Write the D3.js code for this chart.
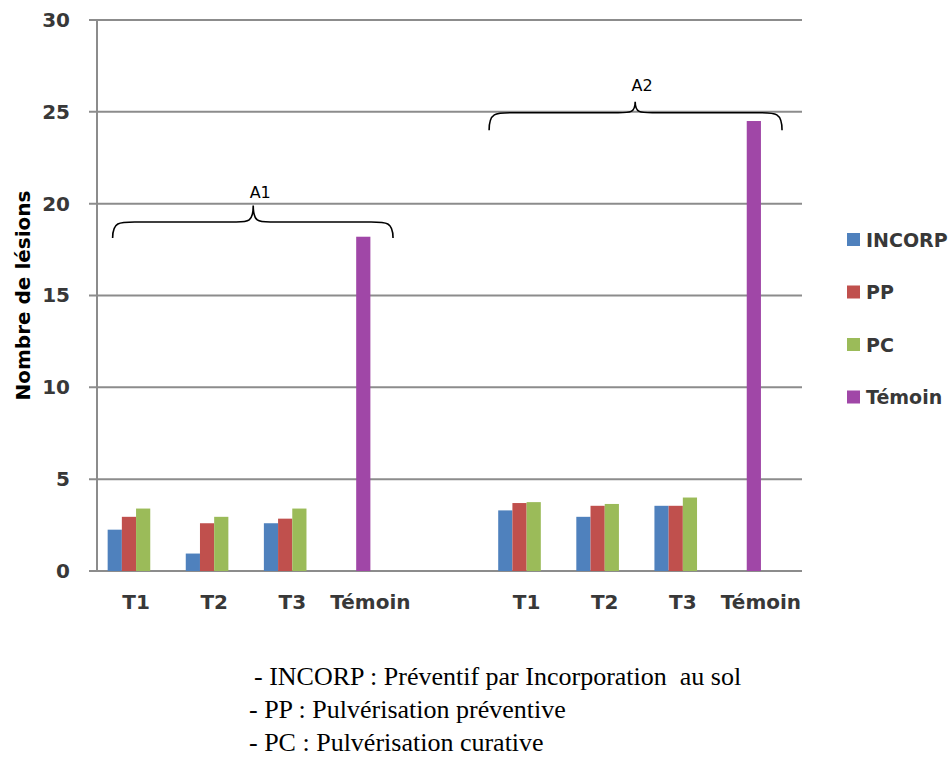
<!DOCTYPE html>
<html>
<head>
<meta charset="utf-8">
<script src="https://cdn.jsdelivr.net/npm/d3@7"></script>
<style>
  html, body { margin: 0; padding: 0; background: #fff; }
  svg { display: block; }
</style>
</head>
<body>
<div id="chart"></div>
<script>
// values, one per (group, treatment) : A1 T1..Témoin, A2 T1..Témoin
var groups = ["A1", "A2"];
var treatments = ["T1", "T2", "T3", "Témoin"];
var seriesNames = ["INCORP", "PP", "PC", "Témoin"];
var incorpValues = [2.25, 0.95, 2.6, null, 3.3, 2.95, 3.55, null];
var ppValues = [2.95, 2.6, 2.85, null, 3.7, 3.55, 3.55, null];
var pcValues = [3.4, 2.95, 3.4, null, 3.75, 3.65, 4.0, null];
var temoinValues = [null, null, null, 18.2, null, null, null, 24.5];
var yTicks = [0, 5, 10, 15, 20, 25, 30];
var notes = [
    "- INCORP : Préventif par Incorporation  au sol",
    "- PP : Pulvérisation préventive",
    "- PC : Pulvérisation curative"
];

var colors = ["#4f81bd", "#c0504d", "#9bbb59", "#a047a7"];
// the Témoin bar sits in the second slot of its category, as in the original
var slotOf = [0, 1, 2, 1];

var width = 952, height = 758;
var margin = { top: 20, left: 97, right: 152, bottom: 187 };
var font = "'DejaVu Sans', sans-serif";

var svg = d3.select("#chart").append("svg")
    .attr("width", width)
    .attr("height", height);

// 9 category slots: 4 per group plus one empty slot between the groups
var slots = d3.range(groups.length * treatments.length + groups.length - 1);
function slotIndex(i) {
    return i + Math.floor(i / treatments.length);
}

var x0 = d3.scaleBand()
    .domain(slots)
    .range([margin.left, width - margin.right])
    .paddingInner(0)
    .paddingOuter(0);

// four bar slots per category, gap of 150% split on both sides
var x1 = d3.scaleBand()
    .domain(d3.range(seriesNames.length))
    .range([0, x0.bandwidth()])
    .paddingInner(0)
    .paddingOuter(0.75);

var y = d3.scaleLinear()
    .domain([0, 30])
    .range([height - margin.bottom, margin.top]);

// fractional category position, used for the braces
var xc = d3.scaleLinear()
    .domain([0, slots.length])
    .range(x0.range());

// grid
svg.append("g")
    .selectAll("line")
    .data(yTicks)
    .enter().append("line")
    .attr("x1", margin.left - 8)
    .attr("x2", width - margin.right + 2)
    .attr("y1", function (d) { return y(d); })
    .attr("y2", function (d) { return y(d); })
    .attr("stroke", "#8c8c8c")
    .attr("stroke-width", 2);

svg.append("line")
    .attr("x1", margin.left).attr("x2", margin.left)
    .attr("y1", y(30)).attr("y2", y(0))
    .attr("stroke", "#8c8c8c")
    .attr("stroke-width", 2);

// y axis
var yAxis = svg.append("g")
    .attr("transform", "translate(" + margin.left + ",0)")
    .call(d3.axisLeft(y).tickValues(yTicks).tickSize(0).tickPadding(27));
yAxis.select(".domain").remove();
yAxis.selectAll("text")
    .attr("font-family", font)
    .attr("font-size", 20)
    .attr("font-weight", "bold")
    .attr("fill", "#383838");

svg.append("text")
    .attr("transform", "translate(30," + (y(15)) + ") rotate(-90)")
    .attr("text-anchor", "middle")
    .attr("font-family", font)
    .attr("font-size", 20)
    .attr("font-weight", "bold")
    .attr("fill", "#000")
    .text("Nombre de lésions");

// x labels
var xLabels = [];
groups.forEach(function (g, gi) {
    treatments.forEach(function (t, ti) {
        xLabels.push({ slot: slotIndex(gi * treatments.length + ti), label: t });
    });
});
var xAxis = svg.append("g")
    .attr("transform", "translate(0," + y(0) + ")")
    .call(d3.axisBottom(x0).tickValues(xLabels.map(function (d) { return d.slot; }))
        .tickSize(0).tickPadding(24)
        .tickFormat(function (s) {
            return xLabels.filter(function (d) { return d.slot === s; })[0].label;
        }));
xAxis.select(".domain").remove();
xAxis.selectAll("text")
    .attr("font-family", font)
    .attr("font-size", 20)
    .attr("font-weight", "bold")
    .attr("fill", "#383838");

// bars
var allValues = [incorpValues, ppValues, pcValues, temoinValues];
var bars = [];
allValues.forEach(function (vals, si) {
    vals.forEach(function (v, i) {
        if (v !== null) bars.push({ series: si, index: i, value: v });
    });
});

svg.append("g")
    .selectAll("rect")
    .data(bars)
    .enter().append("rect")
    .attr("x", function (d) { return x0(slotIndex(d.index)) + x1(slotOf[d.series]); })
    .attr("width", x1.bandwidth())
    .attr("y", function (d) { return y(d.value); })
    .attr("height", function (d) { return y(0) - y(d.value); })
    .attr("fill", function (d) { return colors[d.series]; });

// braces above each group
var braces = [
    { label: "A1", left: 0.2, tip: 2.0, right: 3.79, yEnd: 18.13, yMid: 19.0, yTip: 19.9, yLabel: 20.6 },
    { label: "A2", left: 5.02, tip: 6.89, right: 8.77, yEnd: 24.0, yMid: 24.95, yTip: 25.55, yLabel: 26.45 }
];

function bracePath(b) {
    var xl = xc(b.left), xt = xc(b.tip), xr = xc(b.right);
    var ye = y(b.yEnd), ym = y(b.yMid), yt = y(b.yTip);
    var r = 22, rt = 17;
    var p = d3.path();
    p.moveTo(xl, ye);
    p.bezierCurveTo(xl, ym, xl + r * 0.3, ym, xl + r, ym);
    p.lineTo(xt - rt, ym);
    p.bezierCurveTo(xt - rt * 0.3, ym, xt, ym, xt, yt);
    p.bezierCurveTo(xt, ym, xt + rt * 0.3, ym, xt + rt, ym);
    p.lineTo(xr - r, ym);
    p.bezierCurveTo(xr - r * 0.3, ym, xr, ym, xr, ye);
    return p.toString();
}

svg.append("g")
    .selectAll("path")
    .data(braces)
    .enter().append("path")
    .attr("d", bracePath)
    .attr("fill", "none")
    .attr("stroke", "#000")
    .attr("stroke-width", 1.6);

svg.append("g")
    .selectAll("text")
    .data(braces)
    .enter().append("text")
    .attr("x", function (d) { return xc(d.tip) + 7; })
    .attr("y", function (d) { return y(d.yLabel); })
    .attr("dy", "0.35em")
    .attr("text-anchor", "middle")
    .attr("font-family", font)
    .attr("font-size", 16)
    .attr("fill", "#000")
    .text(function (d) { return d.label; });

// legend
var legend = svg.append("g")
    .selectAll("g")
    .data(seriesNames)
    .enter().append("g")
    .attr("transform", function (d, i) { return "translate(847," + (240 + i * 52.5) + ")"; });

legend.append("rect")
    .attr("x", 0).attr("y", -7)
    .attr("width", 13).attr("height", 13)
    .attr("fill", function (d, i) { return colors[i]; });

legend.append("text")
    .attr("x", 19)
    .attr("dy", "0.35em")
    .attr("font-family", font)
    .attr("font-size", 19)
    .attr("font-weight", "bold")
    .attr("fill", "#383838")
    .text(function (d) { return d; });

// notes under the chart
svg.append("g")
    .selectAll("text")
    .data(notes)
    .enter().append("text")
    .attr("x", function (d, i) { return i === 0 ? 254 : 249; })
    .attr("y", function (d, i) { return 685 + i * 33; })
    .attr("font-family", "'Liberation Serif', 'Times New Roman', serif")
    .attr("font-size", 26)
    .attr("fill", "#000")
    .style("white-space", "pre")
    .text(function (d) { return d; });
</script>
</body>
</html>
